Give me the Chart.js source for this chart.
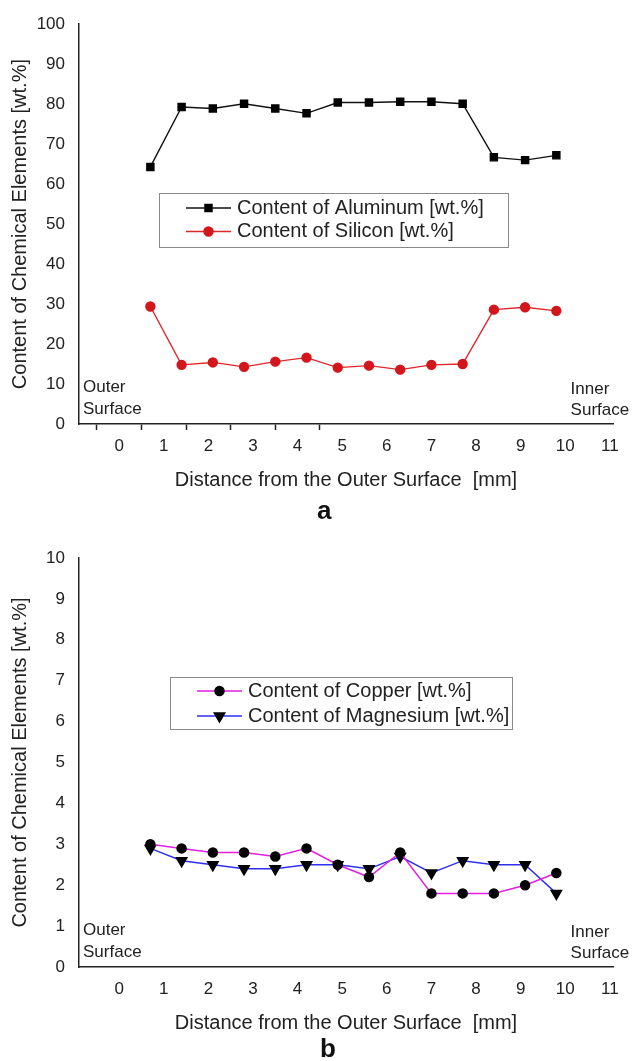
<!DOCTYPE html>
<html>
<head>
<meta charset="utf-8">
<script src="https://cdn.jsdelivr.net/npm/chart.js@4.4.1/dist/chart.umd.min.js"></script>
<style>
  body { margin: 0; background: #fff; }
  #wrap { position: relative; width: 633px; height: 1061px; font-family: 'Liberation Sans', Arial, sans-serif; }
  canvas { position: absolute; left: 0; }
  .tag { position: absolute; font-weight: bold; font-size: 26px; line-height: 26px; color: #111; }
</style>
</head>
<body>
<div id="wrap">
  <canvas id="chartA" width="633" height="500" style="top:0"></canvas>
  <div class="tag" style="left:317px; top:497px">a</div>
  <canvas id="chartB" width="633" height="510" style="top:530px"></canvas>
  <div class="tag" style="left:320px; top:1035px">b</div>
</div>
<script>
// measuring points, distance from the outer surface [mm]
var distance = [0.7, 1.4, 2.1, 2.8, 3.5, 4.2, 4.9, 5.6, 6.3, 7.0, 7.7, 8.4, 9.1, 9.8];

// chart a
var aluminum = [64.3, 79.3, 78.9, 80.1, 78.9, 77.7, 80.4, 80.4, 80.6, 80.6, 80.1, 66.7, 66.0, 67.2];
var silicon = [29.4, 14.8, 15.4, 14.3, 15.6, 16.6, 14.1, 14.6, 13.6, 14.8, 15.0, 28.6, 29.2, 28.3];

// chart b
var copper = [3.0, 2.9, 2.8, 2.8, 2.7, 2.9, 2.5, 2.2, 2.8, 1.8, 1.8, 1.8, 2.0, 2.3];
var magnesium = [2.9, 2.6, 2.5, 2.4, 2.4, 2.5, 2.5, 2.4, 2.7, 2.3, 2.6, 2.5, 2.5, 1.8];

var xTickLabels = [0, 1, 2, 3, 4, 5, 6, 7, 8, 9, 10, 11];
var xTickMarksA = [-0.5, 0.5, 1.5, 2.5, 3.5, 4.5];   // the short marks under axis a
var xTickMarksB = [];

var FONT = "'Liberation Sans', Arial, sans-serif";
var INK = '#222';

function pts(ys) {
    return distance.map(function (x, i) { return { x: x, y: ys[i] }; });
}

function marker(ctx, ds, x, y) {
    ctx.fillStyle = ds.pointBackgroundColor;
    ctx.strokeStyle = ds.pointBorderColor;
    if (Chart.helpers && Chart.helpers.drawPoint) {
        Chart.helpers.drawPoint(ctx, {
            pointStyle: ds.pointStyle, radius: ds.pointRadius,
            rotation: ds.pointRotation || 0, borderWidth: 1
        }, x, y);
    } else {
        ctx.beginPath(); ctx.arc(x, y, ds.pointRadius, 0, Math.PI * 2); ctx.fill();
    }
}

// boxed legend sitting inside the plot
var boxLegend = {
    id: 'boxLegend',
    afterDatasetsDraw: function (chart, args, o) {
        var ctx = chart.ctx;
        ctx.save();
        ctx.fillStyle = '#fff';
        ctx.fillRect(o.left, o.top, o.width, o.height);
        ctx.strokeStyle = '#8a8a8a';
        ctx.lineWidth = 1;
        ctx.strokeRect(o.left + 0.5, o.top + 0.5, o.width, o.height);
        chart.data.datasets.forEach(function (ds, i) {
            var y = o.top + o.firstRow + i * o.rowGap;
            ctx.strokeStyle = ds.borderColor;
            ctx.lineWidth = ds.borderWidth;
            ctx.beginPath();
            ctx.moveTo(o.left + 27, y);
            ctx.lineTo(o.left + 72, y);
            ctx.stroke();
            marker(ctx, ds, o.left + 49.5, y);
            ctx.fillStyle = INK;
            ctx.font = '20px ' + FONT;
            ctx.textBaseline = 'middle';
            ctx.textAlign = 'left';
            ctx.fillText(ds.label, o.left + 78, y);
        });
        ctx.restore();
    }
};

var surfaceNotes = {
    id: 'surfaceNotes',
    afterDraw: function (chart) {
        var ctx = chart.ctx, a = chart.chartArea;
        var ix = chart.scales.x.getPixelForValue(10.12);
        ctx.save();
        ctx.font = '17px ' + FONT;
        ctx.fillStyle = INK;
        ctx.textBaseline = 'middle';
        ctx.textAlign = 'left';
        ctx.fillText('Outer', a.left + 4, a.bottom - 37);
        ctx.fillText('Surface', a.left + 4, a.bottom - 15);
        ctx.fillText('Inner', ix, a.bottom - 35);
        ctx.fillText('Surface', ix, a.bottom - 14);
        ctx.restore();
    }
};

function makeConfig(datasets, yMax, yStep, tickMarks, legendBox, padTop, padBottom) {
    var xTicks = xTickLabels.concat(tickMarks).sort(function (a, b) { return a - b; });
    return {
        type: 'line',
        data: { datasets: datasets },
        options: {
            responsive: false,
            animation: false,
            events: [],
            layout: { padding: { top: padTop, right: 20, bottom: padBottom, left: 0 } },
            elements: { line: { tension: 0 } },
            plugins: {
                legend: { display: false },
                tooltip: { enabled: false },
                boxLegend: legendBox
            },
            scales: {
                x: {
                    type: 'linear',
                    min: -0.9,
                    max: 11.07,
                    afterBuildTicks: function (s) {
                        s.ticks = xTicks.map(function (v) { return { value: v }; });
                    },
                    afterFit: function (s) { s.height = 70; },
                    ticks: {
                        autoSkip: false,
                        maxRotation: 0,
                        padding: 6,
                        color: INK,
                        font: { size: 17, family: FONT },
                        callback: function (v) { return xTickLabels.indexOf(v) >= 0 ? String(v) : ''; }
                    },
                    grid: {
                        display: true,
                        drawOnChartArea: false,
                        drawTicks: true,
                        tickLength: 6,
                        tickWidth: 1.5,
                        color: 'rgba(0,0,0,0)',
                        tickColor: function (c) {
                            return c.tick && tickMarks.indexOf(c.tick.value) >= 0 ? INK : 'rgba(0,0,0,0)';
                        }
                    },
                    border: { display: true, color: INK, width: 1.5 },
                    title: {
                        display: true,
                        text: 'Distance from the Outer Surface  [mm]',
                        color: INK,
                        font: { size: 20, family: FONT },
                        padding: { top: 4, bottom: 2 }
                    }
                },
                y: {
                    min: 0,
                    max: yMax,
                    afterFit: function (s) { s.width = 79; },
                    ticks: { stepSize: yStep, padding: 14, color: INK, font: { size: 17, family: FONT } },
                    grid: { display: false, drawTicks: false },
                    border: { display: true, color: INK, width: 1.5 },
                    title: {
                        display: true,
                        text: 'Content of Chemical Elements [wt.%]',
                        color: INK,
                        font: { size: 20, family: FONT },
                        padding: { top: 8, bottom: 0 }
                    }
                }
            }
        },
        plugins: [boxLegend, surfaceNotes]
    };
}

new Chart(document.getElementById('chartA'), makeConfig([
    {
        label: 'Content of Aluminum [wt.%]',
        data: pts(aluminum),
        borderColor: '#111', borderWidth: 1.4,
        pointStyle: 'rect', pointRadius: 5,
        pointBackgroundColor: '#000', pointBorderColor: '#000'
    },
    {
        label: 'Content of Silicon [wt.%]',
        data: pts(silicon),
        borderColor: '#e0262b', borderWidth: 1.4,
        pointStyle: 'circle', pointRadius: 4.5,
        pointBackgroundColor: '#d3161c', pointBorderColor: '#d3161c'
    }
], 100, 10, xTickMarksA, { left: 159, top: 193, width: 349, height: 54, firstRow: 15, rowGap: 23.5 }, 16, 6));

new Chart(document.getElementById('chartB'), makeConfig([
    {
        label: 'Content of Copper [wt.%]',
        data: pts(copper),
        borderColor: '#e21fe2', borderWidth: 1.5,
        pointStyle: 'circle', pointRadius: 4.5,
        pointBackgroundColor: '#000', pointBorderColor: '#000'
    },
    {
        label: 'Content of Magnesium [wt.%]',
        data: pts(magnesium),
        borderColor: '#2f2ff2', borderWidth: 1.5,
        pointStyle: 'triangle', pointRadius: 6, pointRotation: 180,
        pointBackgroundColor: '#000', pointBorderColor: '#000'
    }
], 10, 1, xTickMarksB, { left: 170, top: 147, width: 342, height: 52, firstRow: 14, rowGap: 25 }, 28, 3));
</script>
</body>
</html>
